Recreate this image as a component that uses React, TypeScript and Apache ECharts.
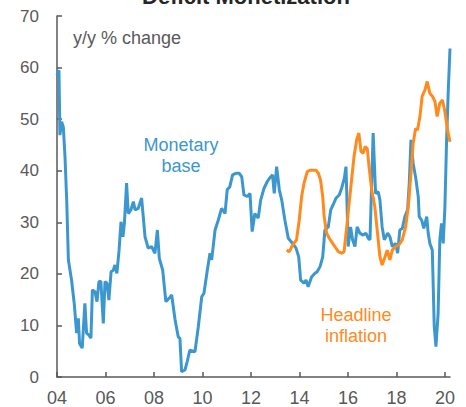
import React, { useEffect, useRef } from "react";
import * as echarts from "echarts";

// Monetary base, y/y % change: [year, value]
const monetaryBase: [number, number][] = [
  [2004.0, 58.5], [2004.08, 59.5], [2004.12, 46.9], [2004.19, 49.5], [2004.26, 48.5],
  [2004.33, 42.7], [2004.4, 34.3], [2004.47, 22.7], [2004.6, 18.8], [2004.71, 14.3],
  [2004.81, 8.5], [2004.88, 11.4], [2004.93, 6.5], [2005.04, 5.6], [2005.15, 14.3],
  [2005.22, 8.5], [2005.32, 8.1], [2005.4, 7.5], [2005.46, 16.9], [2005.57, 16.5],
  [2005.65, 14.6], [2005.73, 18.5], [2005.81, 18.5], [2005.91, 10.4], [2005.98, 18.5],
  [2006.06, 18.2], [2006.14, 14.9], [2006.23, 20.4], [2006.32, 20.7], [2006.39, 21.7],
  [2006.47, 20.1], [2006.56, 24.6], [2006.64, 30.1], [2006.72, 27.2], [2006.78, 29.8],
  [2006.87, 37.6], [2006.94, 31.7], [2007.05, 32.4], [2007.15, 34.0], [2007.22, 32.4],
  [2007.35, 32.7], [2007.49, 34.7], [2007.63, 27.2], [2007.76, 25.0], [2007.9, 25.3],
  [2008.04, 24.0], [2008.14, 28.5], [2008.22, 23.0], [2008.36, 20.7], [2008.49, 14.6],
  [2008.63, 15.3], [2008.73, 15.9], [2008.87, 11.1], [2009.0, 7.8], [2009.07, 7.5],
  [2009.14, 1.0], [2009.28, 1.4], [2009.37, 3.0], [2009.48, 5.2], [2009.69, 4.9],
  [2009.83, 9.8], [2009.97, 15.6], [2010.06, 16.2], [2010.2, 20.7], [2010.31, 24.0],
  [2010.38, 22.7], [2010.52, 28.5], [2010.65, 30.4], [2010.79, 32.7], [2010.93, 31.7],
  [2011.02, 36.3], [2011.13, 36.9], [2011.24, 39.2], [2011.38, 39.5], [2011.52, 39.5],
  [2011.62, 38.8], [2011.71, 35.3], [2011.85, 35.0], [2011.96, 35.6], [2012.05, 28.2],
  [2012.16, 31.7], [2012.3, 30.8], [2012.4, 34.3], [2012.54, 36.6], [2012.67, 37.9],
  [2012.81, 38.8], [2012.89, 39.2], [2012.96, 35.6], [2013.06, 40.8], [2013.17, 36.3],
  [2013.27, 34.3], [2013.4, 30.4], [2013.54, 26.9], [2013.72, 25.9], [2013.86, 25.0],
  [2013.97, 23.3], [2014.05, 18.8], [2014.19, 18.2], [2014.27, 18.8], [2014.36, 17.5],
  [2014.5, 19.4], [2014.64, 20.1], [2014.73, 20.4], [2014.85, 21.4], [2014.96, 23.3],
  [2015.05, 28.5], [2015.19, 29.1], [2015.29, 32.4], [2015.39, 33.4], [2015.51, 34.7],
  [2015.64, 35.3], [2015.74, 36.6], [2015.85, 38.5], [2015.92, 40.8], [2016.01, 25.3],
  [2016.11, 29.1], [2016.19, 26.6], [2016.29, 25.3], [2016.38, 29.1], [2016.49, 27.9],
  [2016.63, 27.5], [2016.74, 27.9], [2016.84, 26.9], [2016.91, 26.6], [2017.04, 47.3],
  [2017.14, 35.6], [2017.25, 35.9], [2017.32, 34.3], [2017.41, 29.1], [2017.5, 26.6],
  [2017.64, 27.9], [2017.73, 27.2], [2017.83, 25.3], [2017.97, 25.9], [2018.05, 24.0],
  [2018.14, 28.5], [2018.24, 28.8], [2018.35, 31.1], [2018.46, 32.4], [2018.53, 37.6],
  [2018.6, 46.0], [2018.69, 41.4], [2018.79, 38.8], [2018.9, 35.0], [2018.94, 31.1],
  [2019.04, 30.4], [2019.13, 28.8], [2019.25, 31.1], [2019.31, 27.9], [2019.38, 25.9],
  [2019.48, 24.6], [2019.56, 9.8], [2019.63, 5.9], [2019.72, 12.3], [2019.79, 26.6],
  [2019.86, 29.8], [2019.93, 25.9], [2020.0, 33.0], [2020.07, 46.0], [2020.14, 55.7],
  [2020.21, 63.7],
];

// Headline inflation, y/y % change: [year, value]
const headlineInflation: [number, number][] = [
  [2013.47, 24.6], [2013.58, 24.3], [2013.72, 25.6], [2013.88, 26.6], [2013.99, 30.4],
  [2014.09, 35.0], [2014.19, 37.6], [2014.32, 39.8], [2014.43, 40.1], [2014.57, 40.1],
  [2014.68, 40.1], [2014.78, 39.5], [2014.87, 38.2], [2014.96, 35.0], [2015.02, 31.1],
  [2015.12, 27.9], [2015.23, 26.9], [2015.37, 25.9], [2015.46, 25.3], [2015.6, 24.3],
  [2015.74, 24.0], [2015.84, 24.3], [2015.95, 29.1], [2016.05, 33.7], [2016.15, 38.2],
  [2016.25, 42.7], [2016.36, 46.0], [2016.45, 47.3], [2016.54, 43.7], [2016.63, 43.4],
  [2016.71, 44.7], [2016.8, 44.3], [2016.87, 40.8], [2016.98, 36.3], [2017.11, 33.0],
  [2017.22, 27.9], [2017.32, 23.3], [2017.41, 21.7], [2017.53, 23.3], [2017.62, 24.6],
  [2017.73, 22.7], [2017.83, 24.6], [2017.97, 25.3], [2018.1, 25.6], [2018.24, 26.6],
  [2018.38, 29.1], [2018.49, 33.0], [2018.6, 39.5], [2018.69, 45.3], [2018.79, 48.2],
  [2018.87, 47.9], [2018.97, 50.5], [2019.06, 54.4], [2019.18, 55.7], [2019.27, 57.3],
  [2019.38, 55.0], [2019.49, 54.4], [2019.59, 53.4], [2019.68, 50.5], [2019.79, 53.1],
  [2019.9, 53.7], [2020.0, 51.4], [2020.11, 47.9], [2020.21, 45.6],
];

const xTickValues = [2004, 2006, 2008, 2010, 2012, 2014, 2016, 2018, 2020];
const yTickLabels = [0, 10, 20, 30, 40, 50, 60, 70];

const BLUE = "#3c97cf";
const ORANGE = "#ff8a1e";
const GRAY = "#595959";
const FONT = "Arial, 'Liberation Sans', sans-serif";

export default function App() {
  const ref = useRef<HTMLDivElement>(null);

  useEffect(() => {
    if (!ref.current) return;
    const chart = echarts.init(ref.current, null, { renderer: "svg" });
    chart.setOption({
      animation: false,
      backgroundColor: "#ffffff",
      grid: { left: 57, right: 16, top: 16, bottom: 30, containLabel: false },
      xAxis: {
        type: "value",
        min: 2004,
        max: 2020.21,
        interval: 2,
        axisLine: { show: true, lineStyle: { color: GRAY, width: 1.5 } },
        axisTick: {
          show: true,
          inside: true,
          length: 5,
          lineStyle: { color: GRAY, width: 1.5 },
          customValues: xTickValues,
        },
        axisLabel: {
          color: GRAY,
          fontSize: 18,
          fontFamily: FONT,
          margin: 12,
          customValues: xTickValues,
          formatter: (v: number) => String(Math.round(v)).slice(2),
        },
        splitLine: { show: false },
      },
      yAxis: {
        type: "value",
        min: yTickLabels[0],
        max: yTickLabels[yTickLabels.length - 1],
        interval: 10,
        axisLine: { show: true, lineStyle: { color: GRAY, width: 1.5 } },
        axisTick: { show: true, inside: true, length: 5, lineStyle: { color: GRAY, width: 1.5 } },
        axisLabel: { color: GRAY, fontSize: 17, fontFamily: FONT, margin: 18 },
        splitLine: { show: false },
      },
      graphic: [
        {
          type: "text",
          x: 246,
          y: -4,
          style: {
            text: "Deficit Monetization",
            fill: "#262626",
            font: `bold 22px ${FONT}`,
            textAlign: "center",
            textVerticalAlign: "middle",
          },
        },
        {
          type: "text",
          x: 73,
          y: 38,
          style: {
            text: "y/y % change",
            fill: GRAY,
            font: `18px ${FONT}`,
            textAlign: "left",
            textVerticalAlign: "middle",
          },
        },
        {
          type: "text",
          x: 181,
          y: 155,
          style: {
            text: "Monetary\nbase",
            fill: BLUE,
            font: `18px ${FONT}`,
            lineHeight: 21,
            textAlign: "center",
            textVerticalAlign: "middle",
          },
        },
        {
          type: "text",
          x: 356,
          y: 325,
          style: {
            text: "Headline\ninflation",
            fill: ORANGE,
            font: `18px ${FONT}`,
            lineHeight: 21,
            textAlign: "center",
            textVerticalAlign: "middle",
          },
        },
      ],
      series: [
        {
          name: "Monetary base",
          type: "line",
          data: monetaryBase,
          showSymbol: false,
          lineStyle: { color: BLUE, width: 3 },
          itemStyle: { color: BLUE },
          z: 2,
        },
        {
          name: "Headline inflation",
          type: "line",
          data: headlineInflation,
          showSymbol: false,
          lineStyle: { color: ORANGE, width: 3 },
          itemStyle: { color: ORANGE },
          z: 3,
        },
      ],
    });
    return () => chart.dispose();
  }, []);

  return <div ref={ref} style={{ width: 466, height: 407, position: "absolute", left: 0, top: 0 }} />;
}
